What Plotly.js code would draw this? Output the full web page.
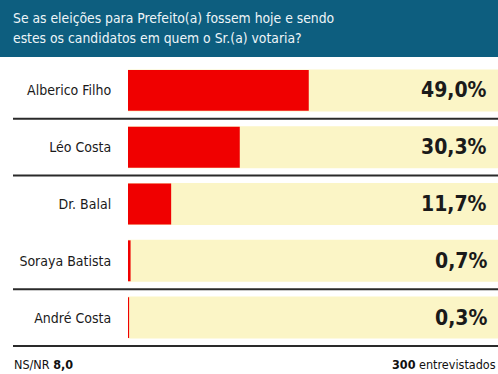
<!DOCTYPE html>
<html>
<head>
<meta charset="utf-8">
<script src="https://cdn.plot.ly/plotly-3.0.1.min.js"></script>
<style>html,body{margin:0;padding:0;background:#fff;}#chart{width:498px;height:374px;}</style>
</head>
<body>
<div id="chart"></div>
<script>
const candidates = ["Alberico Filho", "Léo Costa", "Dr. Balal", "Soraya Batista", "André Costa"];
const percentages = [49.0, 30.3, 11.7, 0.7, 0.3];
const nsnr = 8.0;
const interviewed = 300;
const titleLines = ["Se as eleições para Prefeito(a) fossem hoje e sendo", "estes os candidatos em quem o Sr.(a) votaria?"];

const W = 498, H = 374;
const M = {l: 128, r: 0, t: 62, b: 27};
const plotH = H - M.t - M.b;
const plotW = W - M.l - M.r;
const pyPaper = px => 1 - (px - M.t) / plotH; // pixel y -> paper y
const pxPaper = px => (px - M.l) / plotW;       // pixel x -> paper x

const FONT = "'DejaVu Sans Condensed', 'Liberation Sans Narrow', 'Roboto Condensed', 'Noto Sans', sans-serif";
const fmt = v => v.toFixed(1).replace('.', ',');

const shapes = [];
// header band
shapes.push({type: 'rect', xref: 'paper', yref: 'paper', x0: pxPaper(0), x1: pxPaper(W), y0: pyPaper(57), y1: pyPaper(0),
  fillcolor: '#0d5e7f', line: {width: 0}, layer: 'below'});
// yellow row bands
candidates.forEach((c, i) => {
  shapes.push({type: 'rect', xref: 'paper', yref: 'y', x0: 0, x1: 1, y0: i - 0.37, y1: i + 0.37,
    fillcolor: '#fbf5c6', line: {width: 0}, layer: 'below'});
});
// separator lines (visible in reference)
[0, 1, 3, 4].forEach(i => {
  shapes.push({type: 'line', xref: 'paper', yref: 'y', x0: pxPaper(13), x1: 1, y0: i + 0.5, y1: i + 0.5,
    line: {color: '#2a2a2a', width: 2}});
});

const annotations = [];
titleLines.forEach((t, k) => {
  annotations.push({xref: 'paper', yref: 'paper', x: pxPaper(11), y: pyPaper(18 + k * 20), xanchor: 'left', yanchor: 'middle',
    text: t, showarrow: false, font: {family: FONT, size: 13.8, color: '#eef5f8'}});
});
candidates.forEach((c, i) => {
  annotations.push({xref: 'paper', yref: 'y', x: pxPaper(489), y: i, xanchor: 'right', yanchor: 'middle',
    text: '<b>' + fmt(percentages[i]) + '%</b>', showarrow: false, font: {family: FONT, size: 21, color: '#1a1a1a'}});
});
annotations.push({xref: 'paper', yref: 'paper', x: pxPaper(12), y: pyPaper(364), xanchor: 'left', yanchor: 'middle',
  text: 'NS/NR <b>' + fmt(nsnr) + '</b>', showarrow: false, font: {family: FONT, size: 12.5, color: '#111'}});
annotations.push({xref: 'paper', yref: 'paper', x: pxPaper(498), y: pyPaper(364), xanchor: 'right', yanchor: 'middle',
  text: '<b>' + interviewed + '</b> entrevistados', showarrow: false, font: {family: FONT, size: 12.5, color: '#111'}});

const trace = {
  type: 'bar', orientation: 'h', y: candidates, x: percentages,
  marker: {color: '#f00000', line: {width: 0}}, width: 0.72, hoverinfo: 'none'
};

const layout = {
  width: W, height: H, margin: M,
  paper_bgcolor: '#ffffff', plot_bgcolor: 'rgba(0,0,0,0)',
  showlegend: false,
  xaxis: {range: [0, 100.3], showgrid: false, zeroline: false, showticklabels: false, ticks: '', fixedrange: true},
  yaxis: {autorange: 'reversed', showgrid: false, zeroline: false, ticks: 'outside', ticklen: 13, tickcolor: 'rgba(0,0,0,0)',
    tickfont: {family: FONT, size: 14, color: '#1a1a1a'}, fixedrange: true},
  shapes: shapes, annotations: annotations
};

Plotly.newPlot('chart', [trace], layout, {displayModeBar: false, staticPlot: true});
</script>
</body>
</html>
